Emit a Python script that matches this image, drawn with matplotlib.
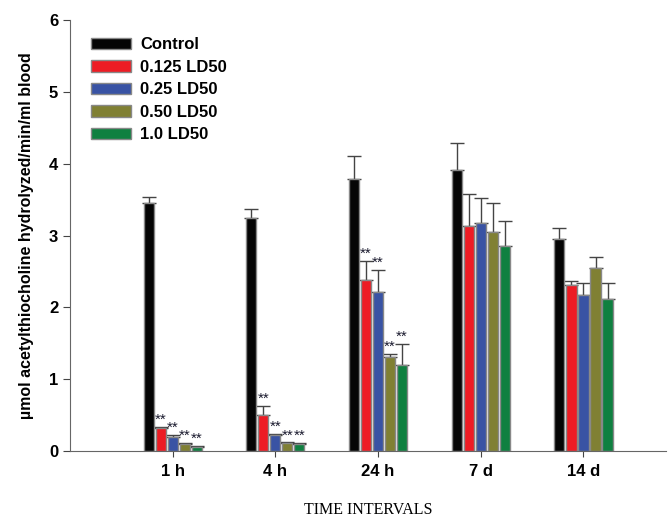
import numpy as np
import matplotlib.pyplot as plt

plt.rcParams['font.family'] = 'Liberation Sans'

intervals = ['1 h', '4 h', '24 h', '7 d', '14 d']
groups = ['Control', '0.125 LD50', '0.25 LD50', '0.50 LD50', '1.0 LD50']
colors = ['#050505', '#ED1C24', '#3953A4', '#808033', '#0F8040']

means = [
    [3.45, 3.24, 3.79, 3.91, 2.95],
    [0.32, 0.50, 2.38, 3.13, 2.31],
    [0.20, 0.22, 2.21, 3.17, 2.17],
    [0.10, 0.11, 1.31, 3.05, 2.55],
    [0.06, 0.10, 1.20, 2.85, 2.12],
]
errs = [
    [0.09, 0.13, 0.32, 0.38, 0.16],
    [0.02, 0.13, 0.27, 0.45, 0.06],
    [0.02, 0.02, 0.31, 0.36, 0.17],
    [0.01, 0.01, 0.04, 0.40, 0.15],
    [0.01, 0.01, 0.29, 0.35, 0.22],
]
# significance marks (**) per group and interval
signif = [
    [False, False, False, False, False],
    [True, True, True, False, False],
    [True, True, True, False, False],
    [True, True, True, False, False],
    [True, True, True, False, False],
]

fig = plt.figure(figsize=(6.7, 5.19), dpi=100)
ax = fig.add_axes([0.1045, 0.131, 0.889, 0.830])

x = np.arange(1, len(intervals) + 1)
pitch = 0.117
width = 0.098
for i in range(len(groups)):
    pos = x + (i - 2) * pitch
    ax.bar(pos, means[i], width=width, color=colors[i], edgecolor='#888888',
           linewidth=1.0, label=groups[i], zorder=2)
    ax.errorbar(pos, means[i], yerr=[np.zeros(len(x)), errs[i]], fmt='none',
                ecolor='#444444', elinewidth=1.0, capsize=5, capthick=1.0, zorder=1)
    for j in range(len(x)):
        if signif[i][j]:
            ax.text(pos[j], means[i][j] + errs[i][j], '**', ha='center',
                    va='bottom', fontsize=11, color='#1a1a2e')

ax.set_xlim(0.0, 5.8)
ax.set_ylim(0, 6)
ax.set_xticks(x)
ax.set_xticklabels(intervals, fontweight='bold', fontsize=12)
ax.set_yticks(range(7))
ax.set_yticklabels([str(v) for v in range(7)], fontweight='bold', fontsize=12)
ax.tick_params(axis='x', length=4, direction='out', color='#444444', pad=5)
ax.tick_params(axis='y', length=5, direction='out', color='#444444')
for s in ['top', 'right']:
    ax.spines[s].set_visible(False)
for s in ['left', 'bottom']:
    ax.spines[s].set_color('#666666')

ax.set_ylabel('µmol acetylthiocholine hydrolyzed/min/ml blood', fontweight='bold',
              fontsize=11.5, labelpad=11)
ax.set_xlabel('TIME INTERVALS', family='Liberation Serif', fontsize=11.5, labelpad=17)

leg = ax.legend(loc='upper left', bbox_to_anchor=(0.01, 0.995), frameon=False,
                prop={'weight': 'bold', 'size': 12}, handlelength=2.4,
                handleheight=0.7, labelspacing=0.45, handletextpad=0.55)

fig.savefig('out.png', dpi=100)
